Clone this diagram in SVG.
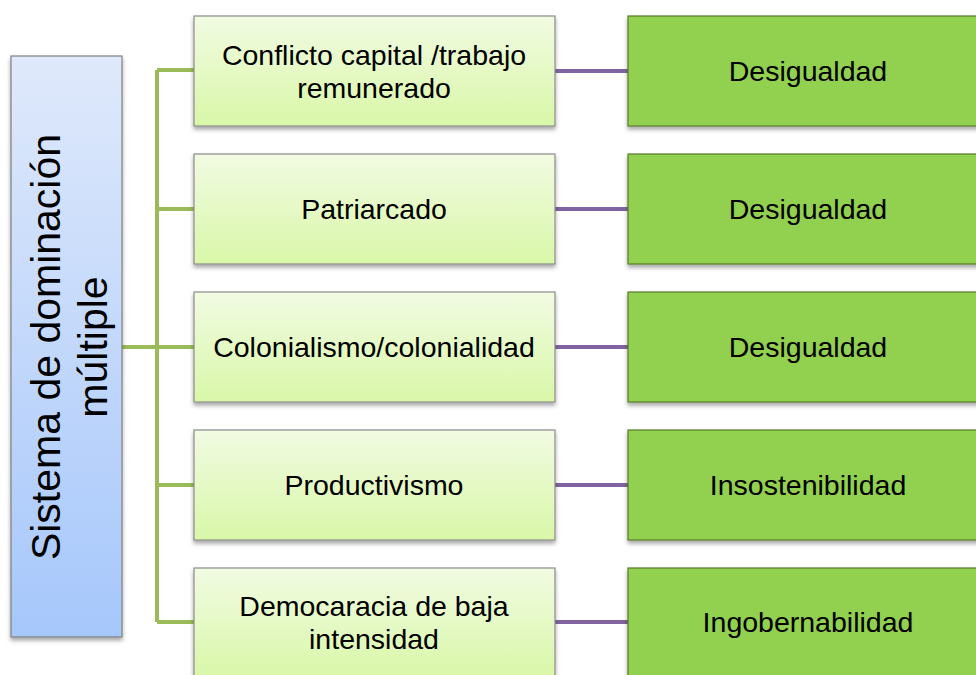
<svg xmlns="http://www.w3.org/2000/svg" width="976" height="675" viewBox="0 0 976 675">
<style>
text{font-family:"Liberation Sans","Open Sans",sans-serif;fill:#000;text-anchor:middle}
.t{font-size:28.5px}
.v{font-size:41px}
.mid{fill:url(#gMid);stroke:#8c8c8c;stroke-width:1.2;filter:url(#sh)}
.res{fill:#92d050;stroke:#5a7a2a;stroke-width:1.2;filter:url(#sh)}
.g{stroke:#9bbb59;stroke-width:4;fill:none}
.p{stroke:#8064a2;stroke-width:4;fill:none}
</style>
<defs>
<linearGradient id="gBlue" x1="0" y1="0" x2="0" y2="1">
<stop offset="0" stop-color="#dfe9fb"/><stop offset="1" stop-color="#a6c7fb"/>
</linearGradient>
<linearGradient id="gMid" x1="0" y1="0" x2="0" y2="1">
<stop offset="0" stop-color="#f1fbe2"/><stop offset="1" stop-color="#d9f7a8"/>
</linearGradient>
<filter id="sh" x="-10%" y="-10%" width="120%" height="130%">
<feDropShadow dx="0" dy="3" stdDeviation="2" flood-color="#000" flood-opacity="0.35"/>
</filter>
</defs>
<g id="connectors">
<path class="g" d="M122 347H157M157 70V622M157 70H194M157 209H194M157 347H194M157 485H194M157 622H194"/>
<path class="p" d="M555 71H628M555 209H628M555 347H628M555 485H628M555 622H628"/>
</g>
<g id="root">
<rect x="11" y="56" width="111" height="581" fill="url(#gBlue)" stroke="#7f7f7f" stroke-width="1.2" filter="url(#sh)"/>
<text class="v" transform="translate(60 347) rotate(-90)">Sistema de dominación</text>
<text class="v" transform="translate(107 347) rotate(-90)">múltiple</text>
</g>
<g id="m1"><rect class="mid" x="194" y="16" width="361" height="110"/><text class="t" x="374" y="65">Conflicto capital /trabajo</text><text class="t" x="374" y="98">remunerado</text></g>
<g id="m2"><rect class="mid" x="194" y="154" width="361" height="110"/><text class="t" x="374" y="219">Patriarcado</text></g>
<g id="m3"><rect class="mid" x="194" y="292" width="361" height="110"/><text class="t" x="374" y="357">Colonialismo/colonialidad</text></g>
<g id="m4"><rect class="mid" x="194" y="430" width="361" height="110"/><text class="t" x="374" y="495">Productivismo</text></g>
<g id="m5"><rect class="mid" x="194" y="568" width="361" height="110"/><text class="t" x="374" y="616">Democaracia de baja</text><text class="t" x="374" y="649">intensidad</text></g>
<g id="r1"><rect class="res" x="628" y="16" width="362" height="110"/><text class="t" x="808" y="81">Desigualdad</text></g>
<g id="r2"><rect class="res" x="628" y="154" width="362" height="110"/><text class="t" x="808" y="219">Desigualdad</text></g>
<g id="r3"><rect class="res" x="628" y="292" width="362" height="110"/><text class="t" x="808" y="357">Desigualdad</text></g>
<g id="r4"><rect class="res" x="628" y="430" width="362" height="110"/><text class="t" x="808" y="495">Insostenibilidad</text></g>
<g id="r5"><rect class="res" x="628" y="568" width="362" height="110"/><text class="t" x="808" y="632">Ingobernabilidad</text></g>
</svg>
